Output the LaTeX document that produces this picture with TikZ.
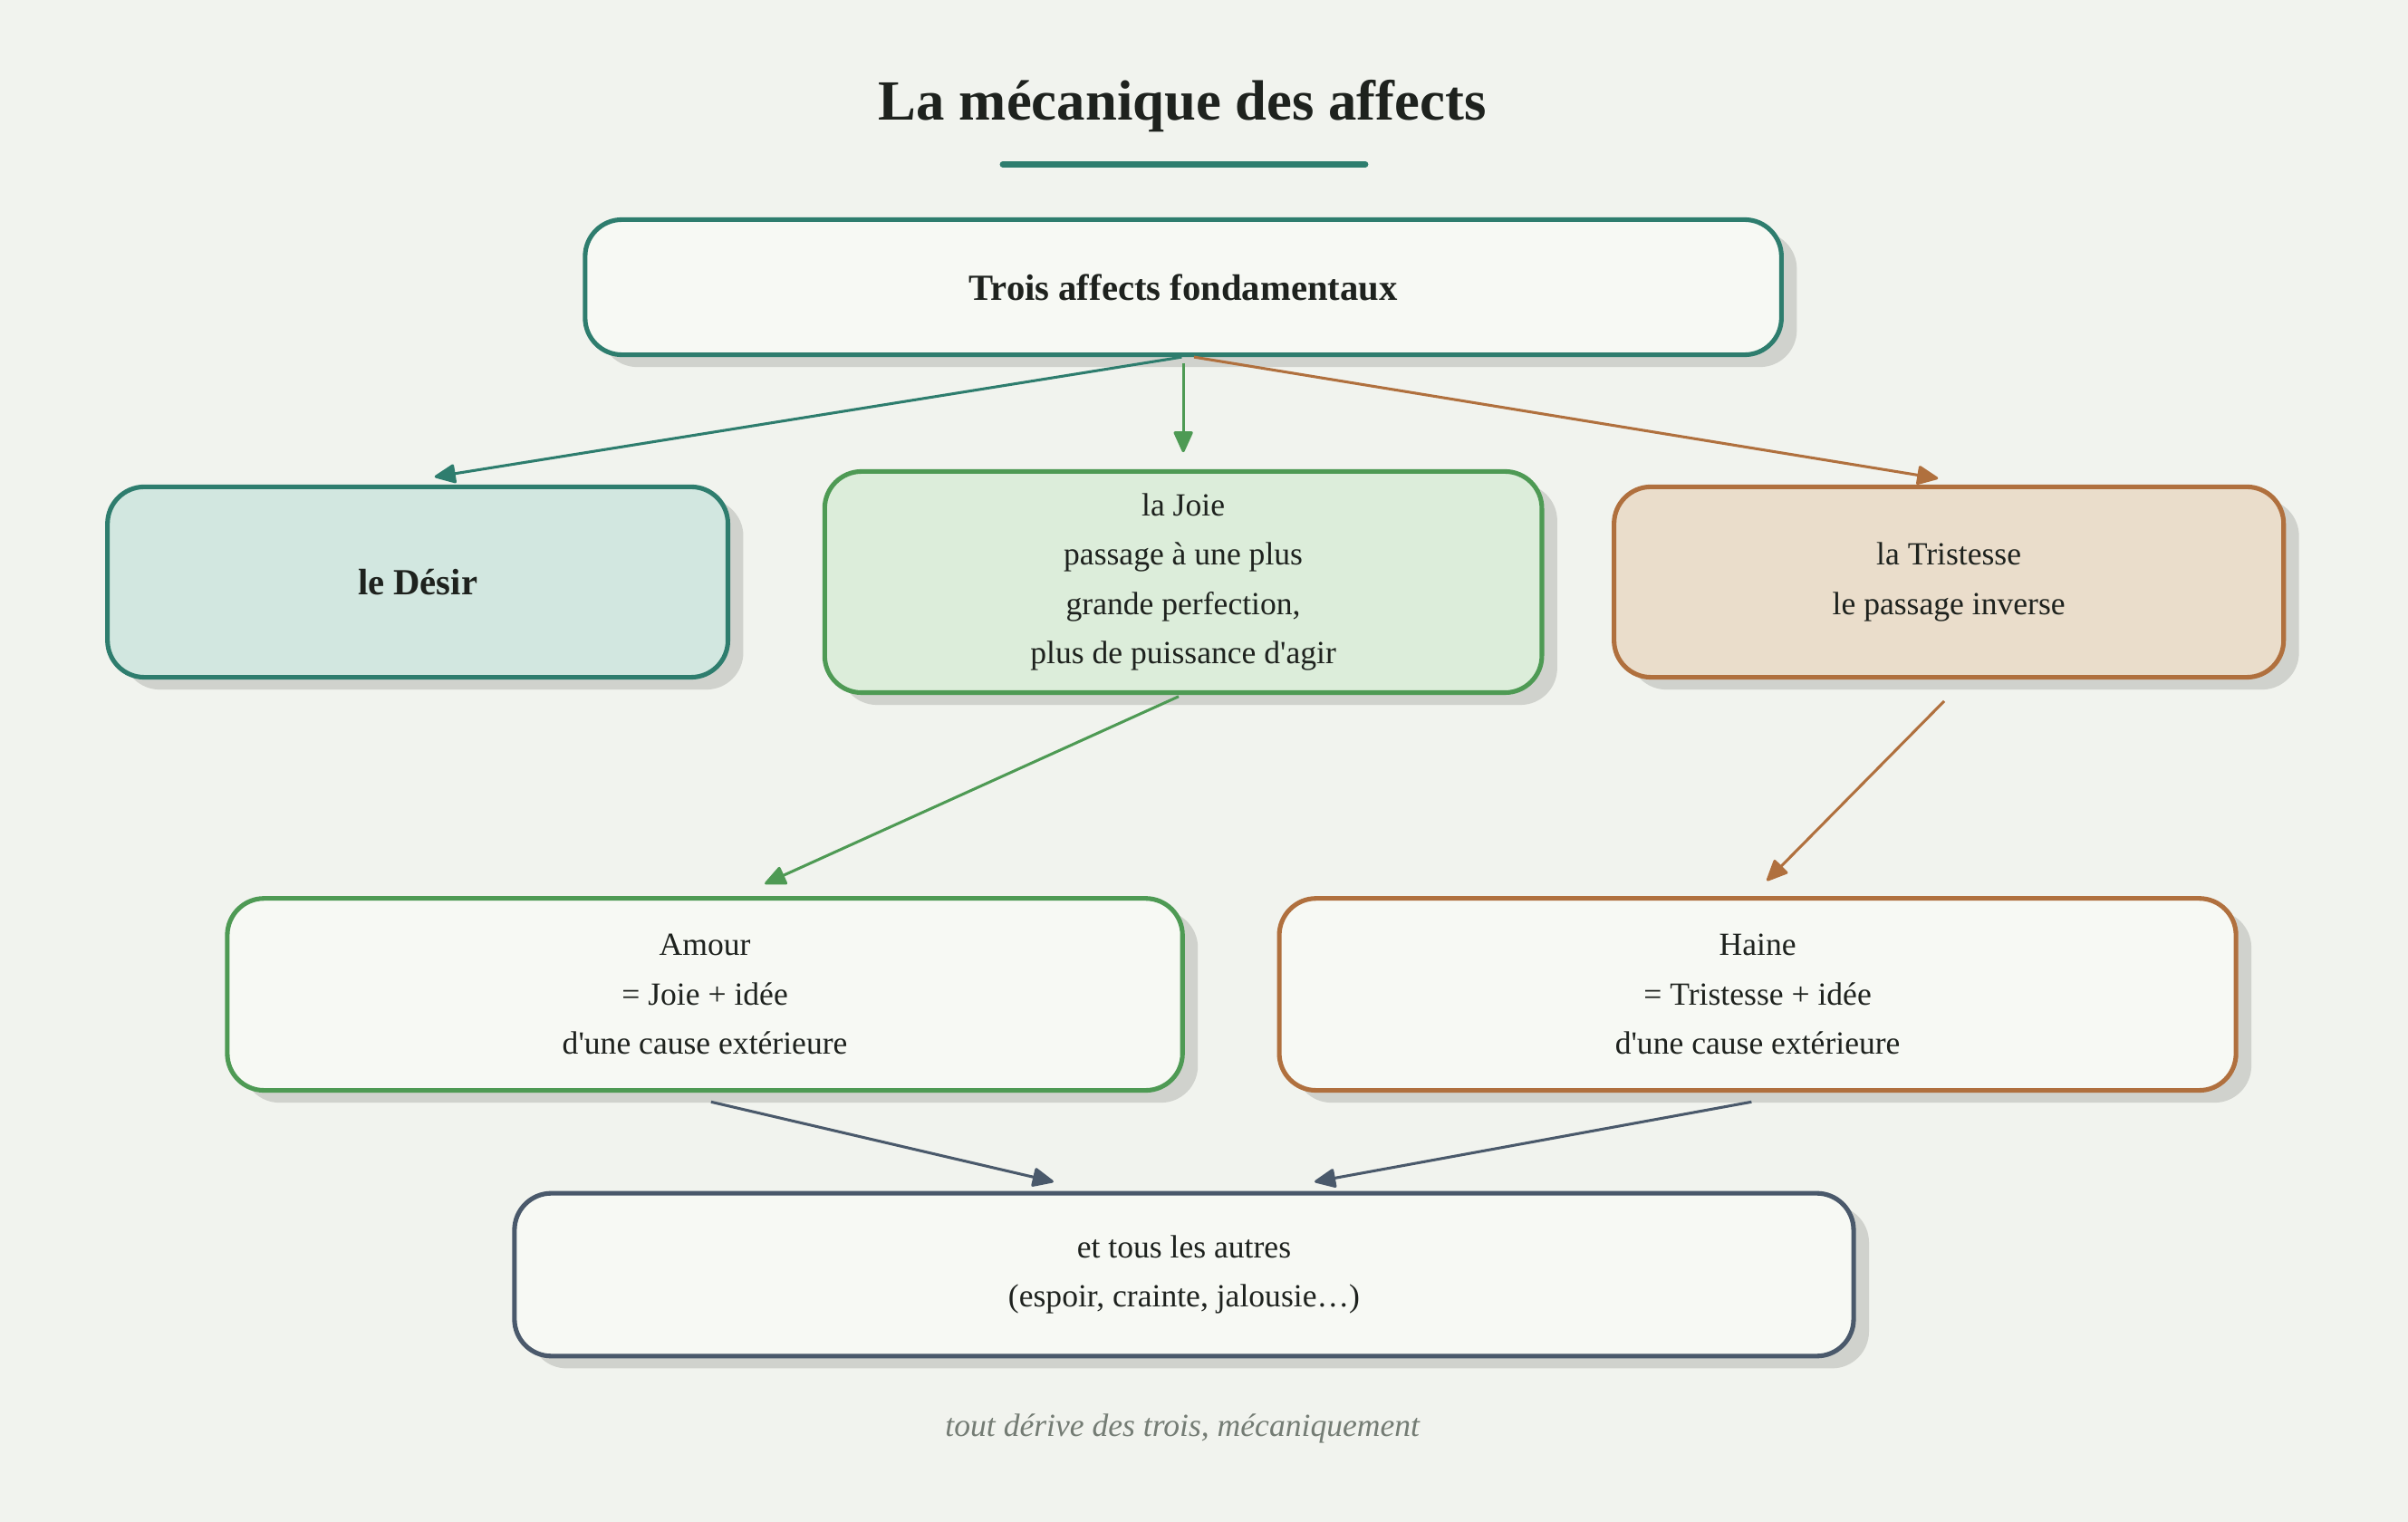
\documentclass[tikz,border=0pt]{standalone}
\usepackage{fontspec}
\setmainfont{Liberation Serif}
\usetikzlibrary{arrows.meta,shadows,calc}
\definecolor{bg}{HTML}{F1F3EE}
\definecolor{boxfill}{HTML}{F7F9F4}
\definecolor{shadowc}{HTML}{D0D2CD}
\definecolor{ink}{HTML}{1E221E}
\definecolor{teal}{HTML}{2E7D6E}
\definecolor{tealfill}{HTML}{D2E7E0}
\definecolor{grn}{HTML}{4E9A54}
\definecolor{grnfill}{HTML}{DCEDDA}
\definecolor{orng}{HTML}{B0703E}
\definecolor{orngfill}{HTML}{EADDCB}
\definecolor{slate}{HTML}{4A596B}
\definecolor{footc}{HTML}{747C74}
\tikzset{
  x=1pt, y=1pt,
  box/.style={draw, line width=3pt, rounded corners=24pt, fill=boxfill, align=center,
    text=ink, inner sep=0pt,
    font=\fontsize{21}{32}\selectfont,
    drop shadow={shadow xshift=10pt, shadow yshift=-8pt, fill=shadowc, opacity=1}},
  conn/.style={line width=1.8pt, -{Triangle[length=15pt,width=13pt,round]}},
}
\begin{document}
\begin{tikzpicture}
\fill[bg] (0,0) rectangle (1568,-991);
\useasboundingbox (0,0) rectangle (1568,-991);

\node[text=ink, font=\fontsize{37}{44}\selectfont\bfseries] (title) at (770,-69) {La mécanique des affects};
\coordinate (ul1) at (653,-107);
\coordinate (ul2) at (889,-107);
\draw[teal, line width=4pt, line cap=round] (ul1) -- (ul2);

\node[box, draw=teal, minimum width=779pt, minimum height=88pt, font=\fontsize{24}{32}\selectfont\bfseries] (top) at (770.5,-187) {Trois affects fondamentaux};

\node[box, draw=teal, fill=tealfill, minimum width=404pt, minimum height=124pt, font=\fontsize{24}{32}\selectfont\bfseries] (desir) at (272,-379) {le Désir};
\node[box, draw=grn, fill=grnfill, minimum width=467pt, minimum height=144pt] (joie) at (770.5,-379) {la Joie\\passage à une plus\\grande perfection,\\plus de puissance d\textquotesingle agir};
\node[box, draw=orng, fill=orngfill, minimum width=436pt, minimum height=124pt] (trist) at (1269,-379) {la Tristesse\\le passage inverse};

\node[box, draw=grn, minimum width=622pt, minimum height=125pt] (amour) at (459,-647.5) {Amour\\= Joie + idée\\d\textquotesingle une cause extérieure};
\node[box, draw=orng, minimum width=623pt, minimum height=125pt] (haine) at (1144.5,-647.5) {Haine\\= Tristesse + idée\\d\textquotesingle une cause extérieure};

\node[box, draw=slate, minimum width=872pt, minimum height=106pt] (autres) at (771,-830) {et tous les autres\\(espoir, crainte, jalousie…)};

\node[text=footc, font=\fontsize{21}{26}\selectfont\itshape] (foot) at (770,-930) {tout dérive des trois, mécaniquement};

\draw[conn, teal] ($(top.south)+(-1,0)$) -- ($(desir.north)+(11,5)$);
\draw[conn, grn] ($(top.south)+(0,-4)$) -- ($(joie.north)+(0,11)$);
\draw[conn, orng] ($(top.south)+(7,0)$) -- ($(trist.north)+(-7,4)$);
\draw[conn, grn] ($(joie.south)+(-3,-1)$) -- ($(amour.north)+(39,8)$);
\draw[conn, orng] ($(trist.south)+(-3,-14)$) -- ($(haine.north)+(6,10)$);
\draw[conn, slate] ($(amour.south)+(4,-6)$) -- ($(autres.north)+(-85,6)$);
\draw[conn, slate] ($(haine.south)+(-4,-6)$) -- ($(autres.north)+(85,6)$);
\end{tikzpicture}
\end{document}
